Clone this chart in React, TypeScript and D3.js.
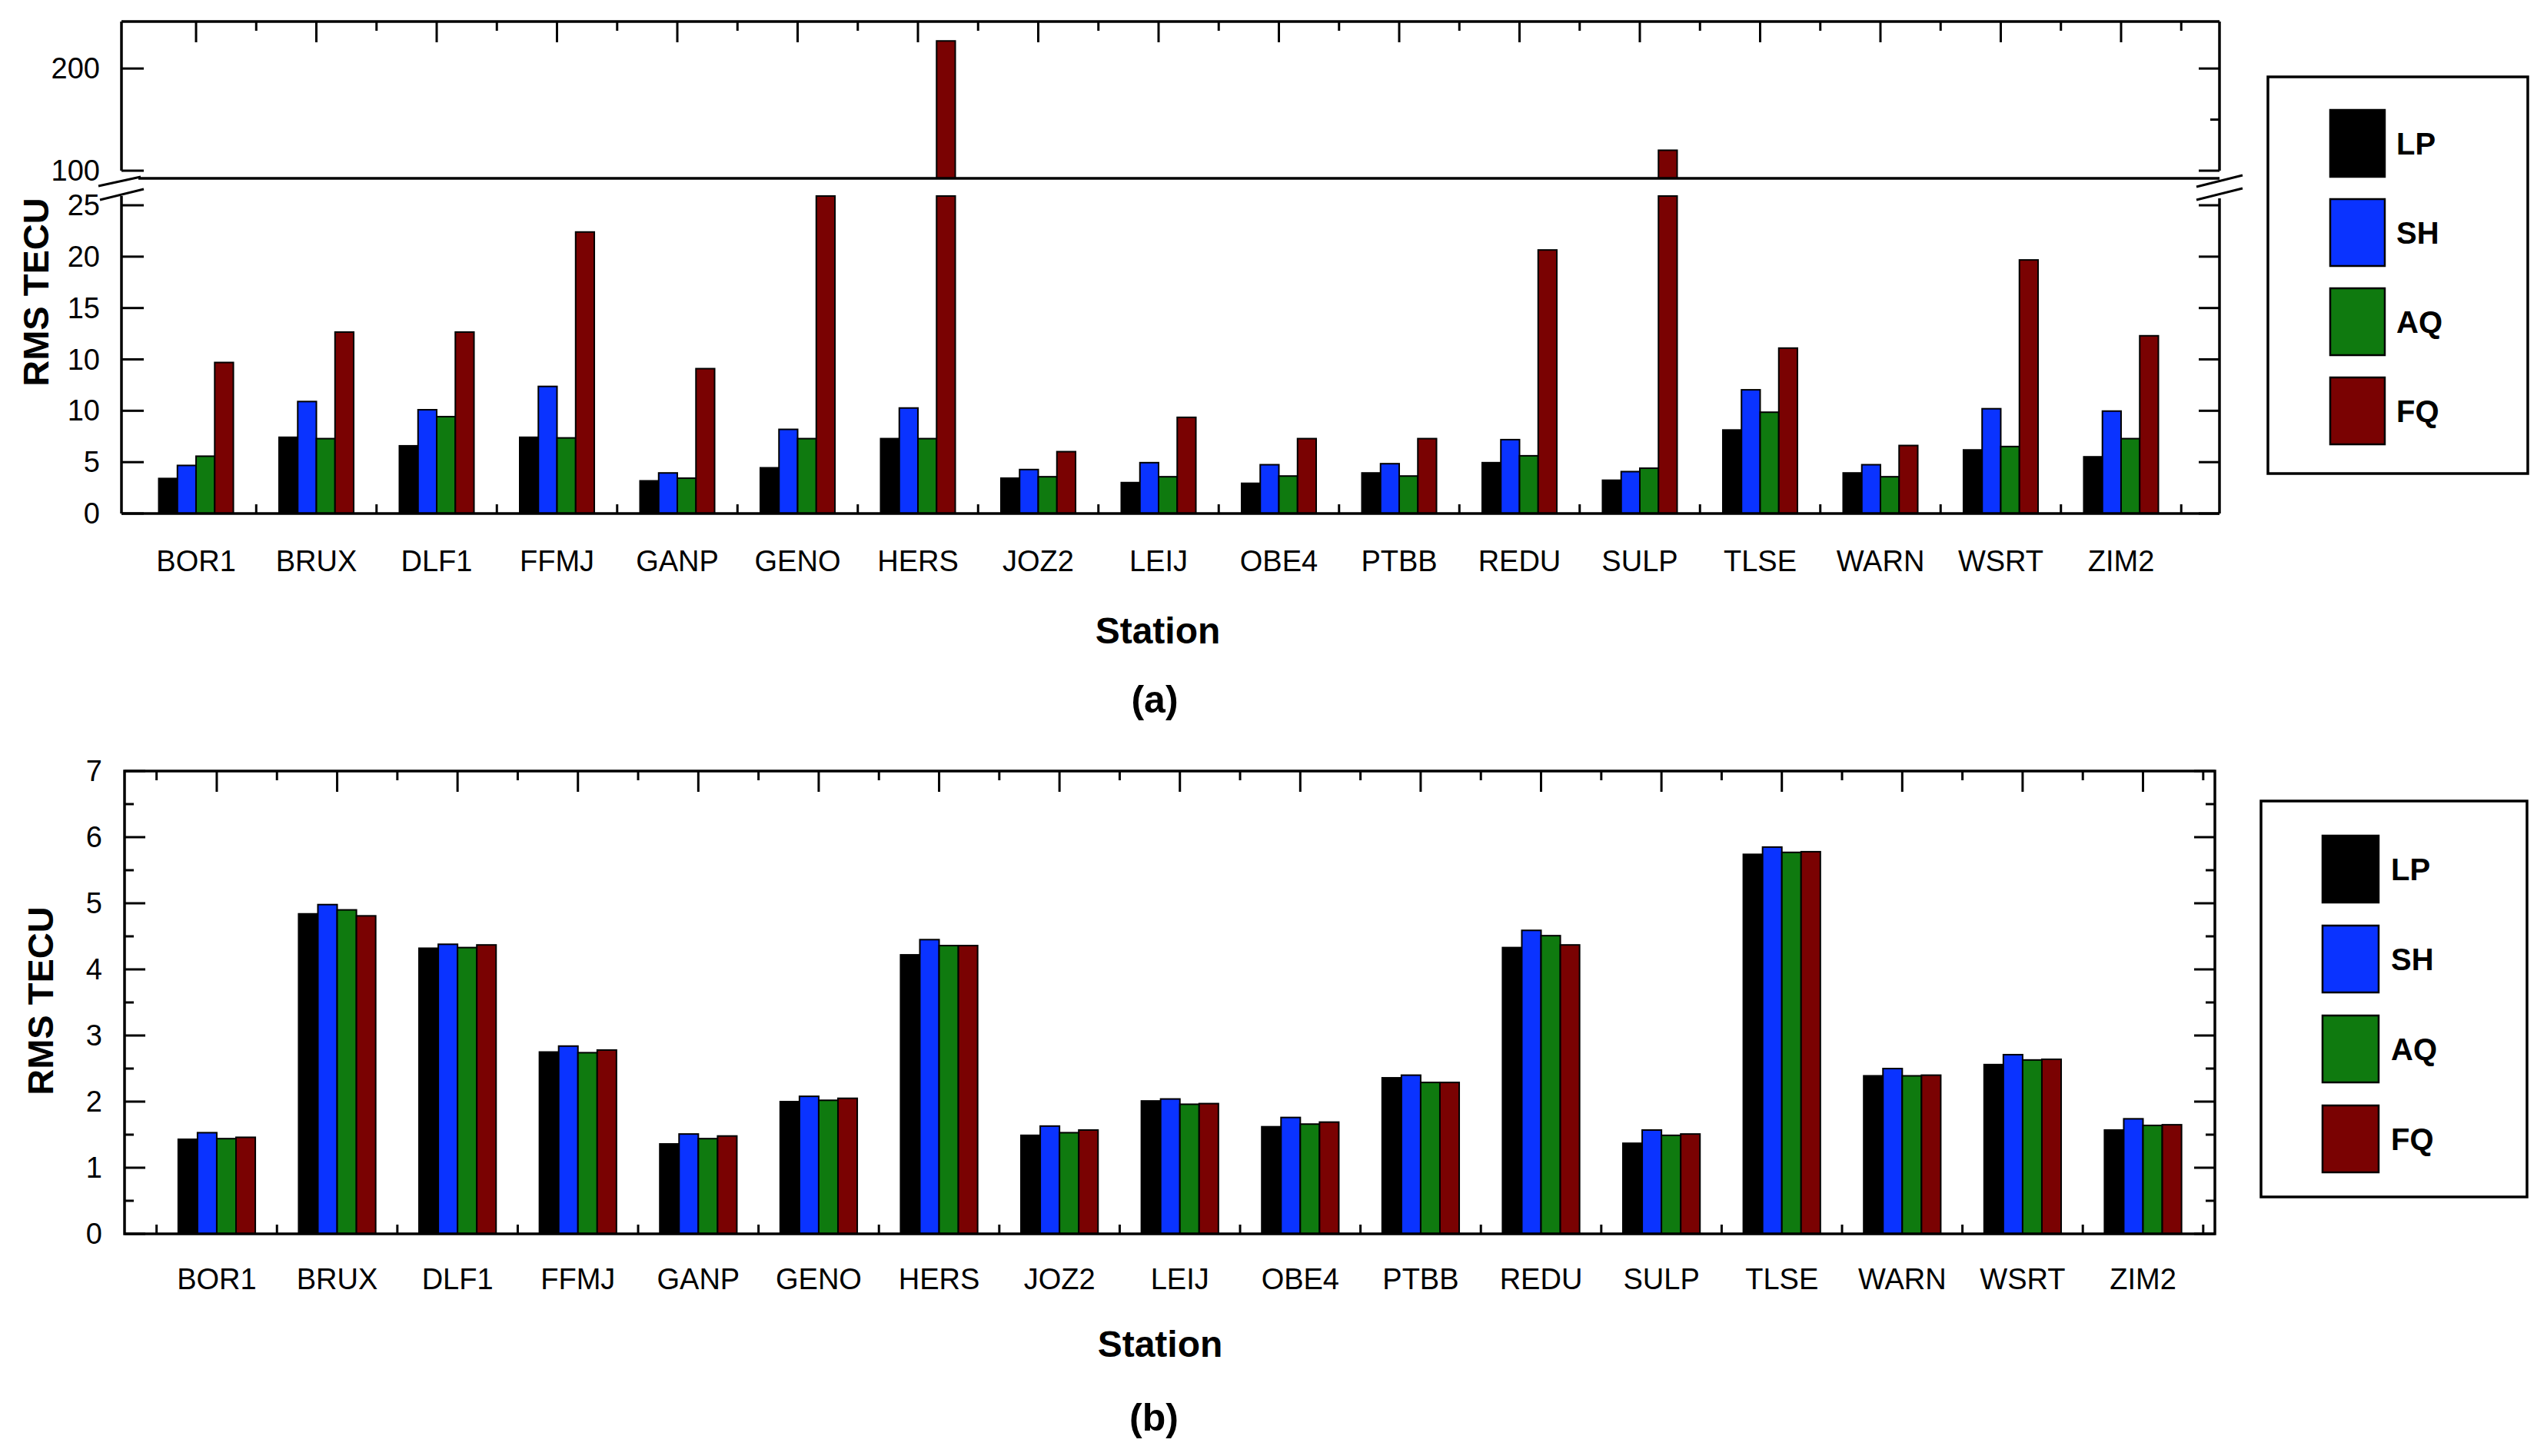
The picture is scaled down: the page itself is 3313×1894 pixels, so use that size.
import React from "react";
import * as d3 from "d3";

// ---------- data ----------
const stations = ["BOR1","BRUX","DLF1","FFMJ","GANP","GENO","HERS","JOZ2","LEIJ","OBE4","PTBB","REDU","SULP","TLSE","WARN","WSRT","ZIM2"];
const seriesNames = ["LP","SH","AQ","FQ"];
const seriesColors = ["#000000","#0a33ff","#0f7a0f","#7a0202"];

// panel (a): values in the drawn axis units (lower part) and above the break (upper part)
const aLP = [3.41,7.42,6.59,7.42,3.18,4.45,7.29,3.44,3.01,2.94,3.95,4.95,3.24,8.13,3.95,6.19,5.52];
const aSH = [4.68,10.9,10.1,12.37,3.95,8.19,10.27,4.28,4.95,4.75,4.85,7.19,4.08,12.04,4.75,10.2,9.97];
const aAQ = [5.58,7.29,9.43,7.36,3.44,7.29,7.29,3.58,3.58,3.65,3.65,5.62,4.41,9.86,3.58,6.52,7.29];
const aFQ = [14.7,17.66,17.66,27.4,14.1,30.9,227,6.02,9.36,7.29,7.29,25.65,120,16.1,6.62,24.68,17.3];

// panel (b)
const bLP = [1.43,4.84,4.32,2.75,1.36,2.0,4.22,1.49,2.01,1.62,2.36,4.33,1.37,5.74,2.39,2.56,1.57];
const bSH = [1.53,4.98,4.38,2.84,1.51,2.08,4.45,1.63,2.04,1.76,2.40,4.59,1.57,5.85,2.50,2.71,1.74];
const bAQ = [1.44,4.90,4.33,2.74,1.44,2.02,4.36,1.53,1.96,1.66,2.29,4.51,1.49,5.77,2.39,2.63,1.64];
const bFQ = [1.46,4.81,4.37,2.78,1.48,2.05,4.36,1.57,1.97,1.69,2.29,4.37,1.51,5.78,2.40,2.64,1.65];

// axis ticks
const aLowerTicks = [0,5,10,15,20,25,30];
const aLowerTickLabels = ["0","5","10","10","15","20","25"];
const aUpperTicks = [100,200];
const aUpperMinor = [150];
const bTicks = [0,1,2,3,4,5,6,7];

const FONT = "'Liberation Sans', Arial, Helvetica, sans-serif";

const aSeries = [aLP, aSH, aAQ, aFQ];
const bSeries = [bLP, bSH, bAQ, bFQ];

export default function App() {
  const W = 3313, H = 1894;

  // ---------- panel (a) scales ----------
  const xA = d3.scaleLinear().domain([-0.62, 16.818]).range([158, 2887]);
  const yUp = d3.scaleLinear().domain([92.5, 246]).range([232, 28]);
  const yLo = d3.scaleLinear().domain([0, 30.9]).range([668, 255]);
  const loMax = yLo.domain()[1];
  const upMin = yUp.domain()[0];
  const bwA = 0.155;

  // ---------- panel (b) scales ----------
  const xB = d3.scaleLinear().domain([-0.766, 16.597]).range([162, 2881]);
  const yB = d3.scaleLinear().domain([0, 7]).range([1605, 1003]);
  const bwB = 0.16;

  const idx = d3.range(stations.length);
  const aL = xA.range()[0], aR = xA.range()[1];
  const bL = xB.range()[0], bR = xB.range()[1];
  const lw = 3.5;
  const tickMaj = 27, tickMin = 12;

  const barW = (x: d3.ScaleLinear<number, number>, w: number) => x(w) - x(0);

  // ---------- panel (a) ----------
  const aBars: JSX.Element[] = [];
  aSeries.forEach((vals, s) => {
    vals.forEach((v, i) => {
      const cx = xA(i + (s - 1.5) * bwA);
      const w = barW(xA, bwA);
      const vLo = Math.min(v, loMax);
      aBars.push(
        <rect key={`al${s}-${i}`} x={cx - w / 2} y={yLo(vLo)} width={w} height={yLo(0) - yLo(vLo)}
          fill={seriesColors[s]} stroke="#000" strokeWidth={2} />
      );
      if (v > upMin) {
        aBars.push(
          <rect key={`au${s}-${i}`} x={cx - w / 2} y={yUp(v)} width={w} height={yUp(upMin) - yUp(v)}
            fill={seriesColors[s]} stroke="#000" strokeWidth={2} />
        );
      }
    });
  });

  const aTop = yUp.range()[1];
  const aBreak = yUp(upMin);
  const aUpBottom = yUp(100);
  const aBottom = yLo(0);
  const aLoTop = yLo(loMax);

  const majors = d3.range(0, stations.length);
  const aMinors = d3.range(0.5, stations.length, 1);
  const bMinors = d3.range(-0.5, stations.length, 1);

  const panelA = (
    <g>
      {majors.map((t) => (
        <line key={`abM${t}`} x1={xA(t)} x2={xA(t)} y1={aBottom} y2={aBottom - tickMaj} stroke="#000" strokeWidth={3} />
      ))}
      {aMinors.map((t) => (
        <line key={`abm${t}`} x1={xA(t)} x2={xA(t)} y1={aBottom} y2={aBottom - tickMin} stroke="#000" strokeWidth={3} />
      ))}
      {aBars}
      {majors.map((t) => (
        <line key={`atM${t}`} x1={xA(t)} x2={xA(t)} y1={aTop} y2={aTop + tickMaj} stroke="#000" strokeWidth={3} />
      ))}
      {aMinors.map((t) => (
        <line key={`atm${t}`} x1={xA(t)} x2={xA(t)} y1={aTop} y2={aTop + tickMin} stroke="#000" strokeWidth={3} />
      ))}
      <line x1={aL} x2={aR} y1={aTop} y2={aTop} stroke="#000" strokeWidth={lw} />
      <line x1={aL} x2={aR} y1={aBottom} y2={aBottom} stroke="#000" strokeWidth={lw} />
      <line x1={aL + 22} x2={aR} y1={aBreak} y2={aBreak} stroke="#000" strokeWidth={lw} />
      <line x1={aL} x2={aL} y1={aTop} y2={aUpBottom} stroke="#000" strokeWidth={lw} />
      <line x1={aL} x2={aL} y1={aLoTop} y2={aBottom} stroke="#000" strokeWidth={lw} />
      <line x1={aR} x2={aR} y1={aTop} y2={aUpBottom} stroke="#000" strokeWidth={lw} />
      <line x1={aR} x2={aR} y1={aLoTop + 3} y2={aBottom} stroke="#000" strokeWidth={lw} />
      <line x1={aL - 30} x2={aL + 25} y1={aBreak + 10} y2={aBreak - 2} stroke="#000" strokeWidth={3} />
      <line x1={aL - 28} x2={aL + 29} y1={aBreak + 28} y2={aBreak + 14} stroke="#000" strokeWidth={3} />
      <line x1={aR - 30} x2={aR + 30} y1={aBreak + 11} y2={aBreak - 4} stroke="#000" strokeWidth={3} />
      <line x1={aR - 30} x2={aR + 30} y1={aBreak + 28} y2={aBreak + 13} stroke="#000" strokeWidth={3} />
      {aLowerTicks.map((t, k) => (
        <g key={`aly${t}`}>
          <line x1={aL} x2={aL + tickMaj + 2} y1={yLo(t)} y2={yLo(t)} stroke="#000" strokeWidth={3} />
          <line x1={aR} x2={aR - tickMaj} y1={yLo(t)} y2={yLo(t)} stroke="#000" strokeWidth={3} />
          <text x={aL - 28} y={yLo(t)} textAnchor="end" dominantBaseline="central" fontSize={38} fontFamily={FONT}>
            {aLowerTickLabels[k]}
          </text>
        </g>
      ))}
      {aUpperTicks.map((t) => (
        <g key={`auy${t}`}>
          <line x1={aL} x2={aL + tickMaj + 2} y1={yUp(t)} y2={yUp(t)} stroke="#000" strokeWidth={3} />
          <line x1={aR} x2={aR - tickMaj} y1={yUp(t)} y2={yUp(t)} stroke="#000" strokeWidth={3} />
          <text x={aL - 28} y={yUp(t)} textAnchor="end" dominantBaseline="central" fontSize={38} fontFamily={FONT}>
            {t}
          </text>
        </g>
      ))}
      {aUpperMinor.map((t) => (
        <line key={`aum${t}`} x1={aR} x2={aR - tickMin} y1={yUp(t)} y2={yUp(t)} stroke="#000" strokeWidth={3} />
      ))}
      {idx.map((i) => (
        <text key={`axl${i}`} x={xA(i)} y={743} textAnchor="middle" fontSize={38} fontFamily={FONT}>
          {stations[i]}
        </text>
      ))}
      <text x={1506} y={837} textAnchor="middle" fontSize={48} fontWeight="bold" fontFamily={FONT}>Station</text>
      <text x={1502} y={927} textAnchor="middle" fontSize={50} fontWeight="bold" fontFamily={FONT}>(a)</text>
      <text transform={`translate(63,380) rotate(-90)`} textAnchor="middle" fontSize={47} fontWeight="bold" fontFamily={FONT}>RMS TECU</text>
    </g>
  );

  // ---------- panel (b) ----------
  const bTop = yB.range()[1];
  const bBottom = yB(0);
  const bMinorY = d3.range(0.5, 7, 1);

  const bBars: JSX.Element[] = [];
  bSeries.forEach((vals, s) => {
    vals.forEach((v, i) => {
      const cx = xB(i + (s - 1.5) * bwB);
      const w = barW(xB, bwB);
      bBars.push(
        <rect key={`b${s}-${i}`} x={cx - w / 2} y={yB(v)} width={w} height={yB(0) - yB(v)}
          fill={seriesColors[s]} stroke="#000" strokeWidth={2} />
      );
    });
  });

  const panelB = (
    <g>
      {majors.map((t) => (
        <line key={`bbM${t}`} x1={xB(t)} x2={xB(t)} y1={bBottom} y2={bBottom - tickMaj} stroke="#000" strokeWidth={3} />
      ))}
      {bMinors.map((t) => (
        <line key={`bbm${t}`} x1={xB(t)} x2={xB(t)} y1={bBottom} y2={bBottom - tickMin} stroke="#000" strokeWidth={3} />
      ))}
      {bBars}
      {majors.map((t) => (
        <line key={`btM${t}`} x1={xB(t)} x2={xB(t)} y1={bTop} y2={bTop + tickMaj} stroke="#000" strokeWidth={3} />
      ))}
      {bMinors.map((t) => (
        <line key={`btm${t}`} x1={xB(t)} x2={xB(t)} y1={bTop} y2={bTop + tickMin} stroke="#000" strokeWidth={3} />
      ))}
      <rect x={bL} y={bTop} width={bR - bL} height={bBottom - bTop} fill="none" stroke="#000" strokeWidth={lw} />
      {bTicks.map((t) => (
        <g key={`by${t}`}>
          <line x1={bL} x2={bL + tickMaj} y1={yB(t)} y2={yB(t)} stroke="#000" strokeWidth={3} />
          <line x1={bR} x2={bR - tickMaj} y1={yB(t)} y2={yB(t)} stroke="#000" strokeWidth={3} />
          <text x={bL - 29} y={yB(t)} textAnchor="end" dominantBaseline="central" fontSize={38} fontFamily={FONT}>
            {t}
          </text>
        </g>
      ))}
      {bMinorY.map((t) => (
        <g key={`bym${t}`}>
          <line x1={bL} x2={bL + tickMin} y1={yB(t)} y2={yB(t)} stroke="#000" strokeWidth={3} />
          <line x1={bR} x2={bR - tickMin} y1={yB(t)} y2={yB(t)} stroke="#000" strokeWidth={3} />
        </g>
      ))}
      {idx.map((i) => (
        <text key={`bxl${i}`} x={xB(i)} y={1677} textAnchor="middle" fontSize={38} fontFamily={FONT}>
          {stations[i]}
        </text>
      ))}
      <text x={1509} y={1765} textAnchor="middle" fontSize={48} fontWeight="bold" fontFamily={FONT}>Station</text>
      <text x={1501} y={1861} textAnchor="middle" fontSize={50} fontWeight="bold" fontFamily={FONT}>(b)</text>
      <text transform={`translate(69,1302) rotate(-90)`} textAnchor="middle" fontSize={47} fontWeight="bold" fontFamily={FONT}>RMS TECU</text>
    </g>
  );

  const legend = (key: string, box: { x: number; y: number; w: number; h: number }, sx: number, sw: number, sy0: number, step: number, sh: number, tx: number) => {
    const ly = d3.scaleLinear().domain([0, 1]).range([sy0, sy0 + step]);
    return (
      <g key={key}>
        <rect x={box.x} y={box.y} width={box.w} height={box.h} fill="#fff" stroke="#000" strokeWidth={lw} />
        {seriesNames.map((n, i) => (
          <g key={n}>
            <rect x={sx} y={ly(i)} width={sw} height={sh} fill={seriesColors[i]} stroke="#000" strokeWidth={2.5} />
            <text x={tx} y={ly(i) + sh / 2} dominantBaseline="central" fontSize={40} fontWeight="bold" fontFamily={FONT}>
              {n}
            </text>
          </g>
        ))}
      </g>
    );
  };

  return (
    <svg width={W} height={H} viewBox={`0 0 ${W} ${H}`} style={{ position: "absolute", left: 0, top: 0, background: "#fff" }}>
      <rect x={0} y={0} width={W} height={H} fill="#fff" />
      {panelA}
      {panelB}
      {legend("la", { x: 2950, y: 100, w: 338, h: 516 }, 3031, 71, 143, 116, 87, 3117)}
      {legend("lb", { x: 2941, y: 1042, w: 346, h: 515 }, 3021, 73, 1087, 117, 87, 3110)}
    </svg>
  );
}
